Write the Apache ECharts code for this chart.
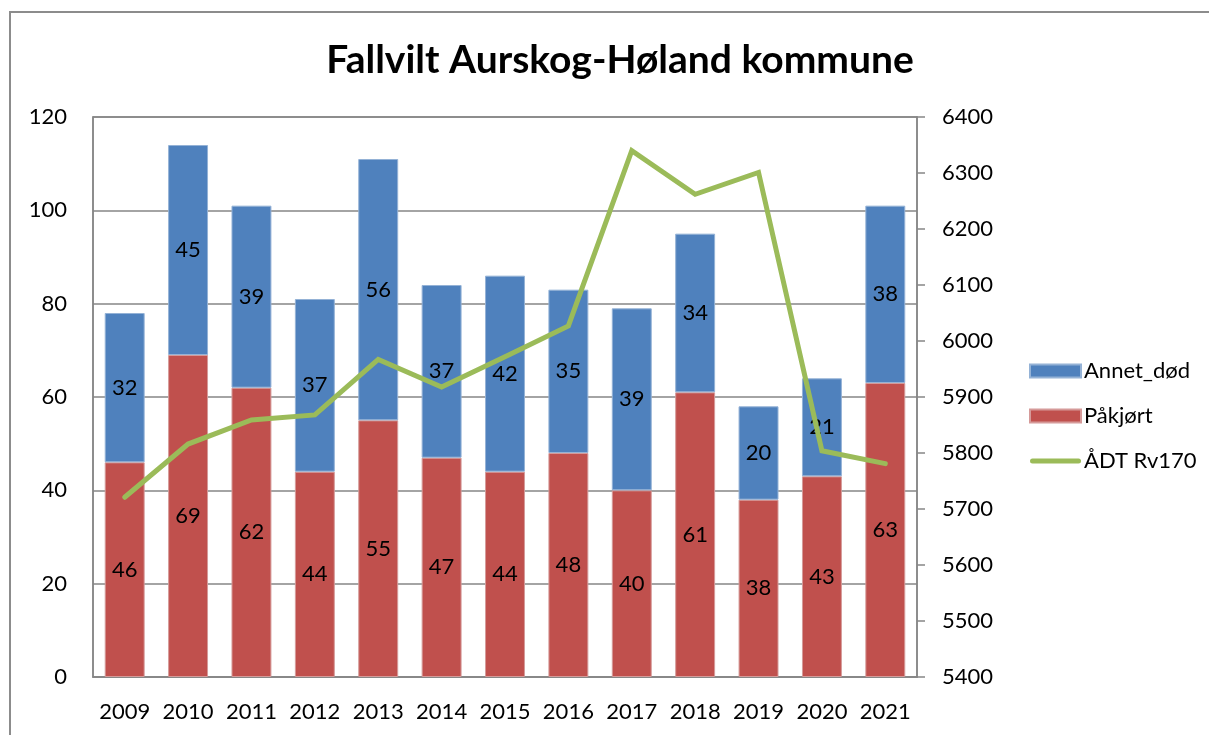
<!DOCTYPE html>
<html>
<head>
<meta charset="utf-8">
<script src="https://cdn.jsdelivr.net/npm/echarts@6/dist/echarts.min.js"></script>
<style>
  html, body { margin: 0; padding: 0; background: #fff; }
  #chart { width: 1209px; height: 735px; }
</style>
</head>
<body>
<div id="chart"></div>
<script>
const years = ["2009", "2010", "2011", "2012", "2013", "2014", "2015", "2016", "2017", "2018", "2019", "2020", "2021"];
const pakjort = [46, 69, 62, 44, 55, 47, 44, 48, 40, 61, 38, 43, 63];
const annetDod = [32, 45, 39, 37, 56, 37, 42, 35, 39, 34, 20, 21, 38];
const adtRv170 = [5721, 5816, 5859, 5868, 5967, 5918, 5972, 6027, 6340, 6262, 6301, 5804, 5781];

const font = "Lato, 'Open Sans', sans-serif";
const gridGray = "#868686";

let myChart = echarts.init(document.getElementById("chart"));

let labelStyle = {
  show: true,
  position: "inside",
  color: "#000",
  fontSize: 22,
  fontFamily: font,
};

let option = {
  backgroundColor: "#fff",
  animation: false,
  title: {
    text: "Fallvilt Aurskog-Høland kommune",
    left: 615,
    textAlign: "center",
    top: 36,
    textStyle: {
      fontFamily: font,
      fontWeight: "bold",
      fontSize: 39,
      color: "#000",
    },
  },
  graphic: [
    {
      type: "rect",
      shape: { x: 10, y: 12, width: 1400, height: 900 },
      style: { fill: "none", stroke: "#8c8c8c", lineWidth: 2 },
      silent: true,
    },
  ],
  legend: {
    orient: "vertical",
    left: 1024,
    top: 355,
    itemWidth: 51,
    itemHeight: 13,
    itemGap: 23,
    symbolKeepAspect: true,
    data: [
      { name: "Annet_død", icon: "rect" },
      { name: "Påkjørt", icon: "rect" },
      {
        name: "ÅDT Rv170",
        icon: "path://M2.5,0 L48.5,0 A2.5,2.5 0 0 1 48.5,5 L2.5,5 A2.5,2.5 0 0 1 2.5,0 Z",
      },
    ],
    textStyle: {
      fontFamily: font,
      fontSize: 22,
      color: "#000",
      padding: [0, 0, 0, -2],
    },
  },
  grid: {
    left: 93,
    right: 292,
    top: 117,
    bottom: 58,
    show: true,
    borderColor: gridGray,
    borderWidth: 1.5,
  },
  xAxis: {
    type: "category",
    data: years,
    axisTick: { show: false },
    axisLine: { lineStyle: { color: gridGray, width: 1.5 } },
    axisLabel: {
      interval: 0,
      color: "#000",
      fontFamily: font,
      fontSize: 22,
      margin: 24,
    },
  },
  yAxis: [
    {
      type: "value",
      min: 0,
      max: 120,
      interval: 20,
      axisLine: { show: true, lineStyle: { color: gridGray, width: 1.5 } },
      axisTick: { show: false },
      splitLine: { lineStyle: { color: gridGray, width: 1.5 } },
      axisLabel: {
        color: "#000",
        fontFamily: font,
        fontSize: 22,
        margin: 26,
      },
    },
    {
      type: "value",
      min: 5400,
      max: 6400,
      interval: 100,
      position: "right",
      axisLine: { show: true, lineStyle: { color: gridGray, width: 1.5 } },
      axisTick: { show: true, length: 8, lineStyle: { color: gridGray, width: 1.5 } },
      splitLine: { show: false },
      axisLabel: {
        color: "#000",
        fontFamily: font,
        fontSize: 22,
        margin: 25,
        formatter: (v) => String(v),
      },
    },
  ],
  series: [
    {
      name: "Påkjørt",
      type: "bar",
      stack: "fallvilt",
      data: pakjort,
      barCategoryGap: "37%",
      itemStyle: { color: "#C0504D", borderColor: "#d59a99", borderWidth: 1 },
      label: labelStyle,
    },
    {
      name: "Annet_død",
      type: "bar",
      stack: "fallvilt",
      data: annetDod,
      itemStyle: { color: "#4F81BD", borderColor: "#94b2d6", borderWidth: 1 },
      label: labelStyle,
    },
    {
      name: "ÅDT Rv170",
      type: "line",
      yAxisIndex: 1,
      data: adtRv170,
      symbol: "none",
      z: 5,
      itemStyle: { color: "#9BBB59" },
      lineStyle: { color: "#9BBB59", width: 5, cap: "round", join: "miter" },
    },
  ],
};
myChart.setOption(option);
</script>
</body>
</html>
